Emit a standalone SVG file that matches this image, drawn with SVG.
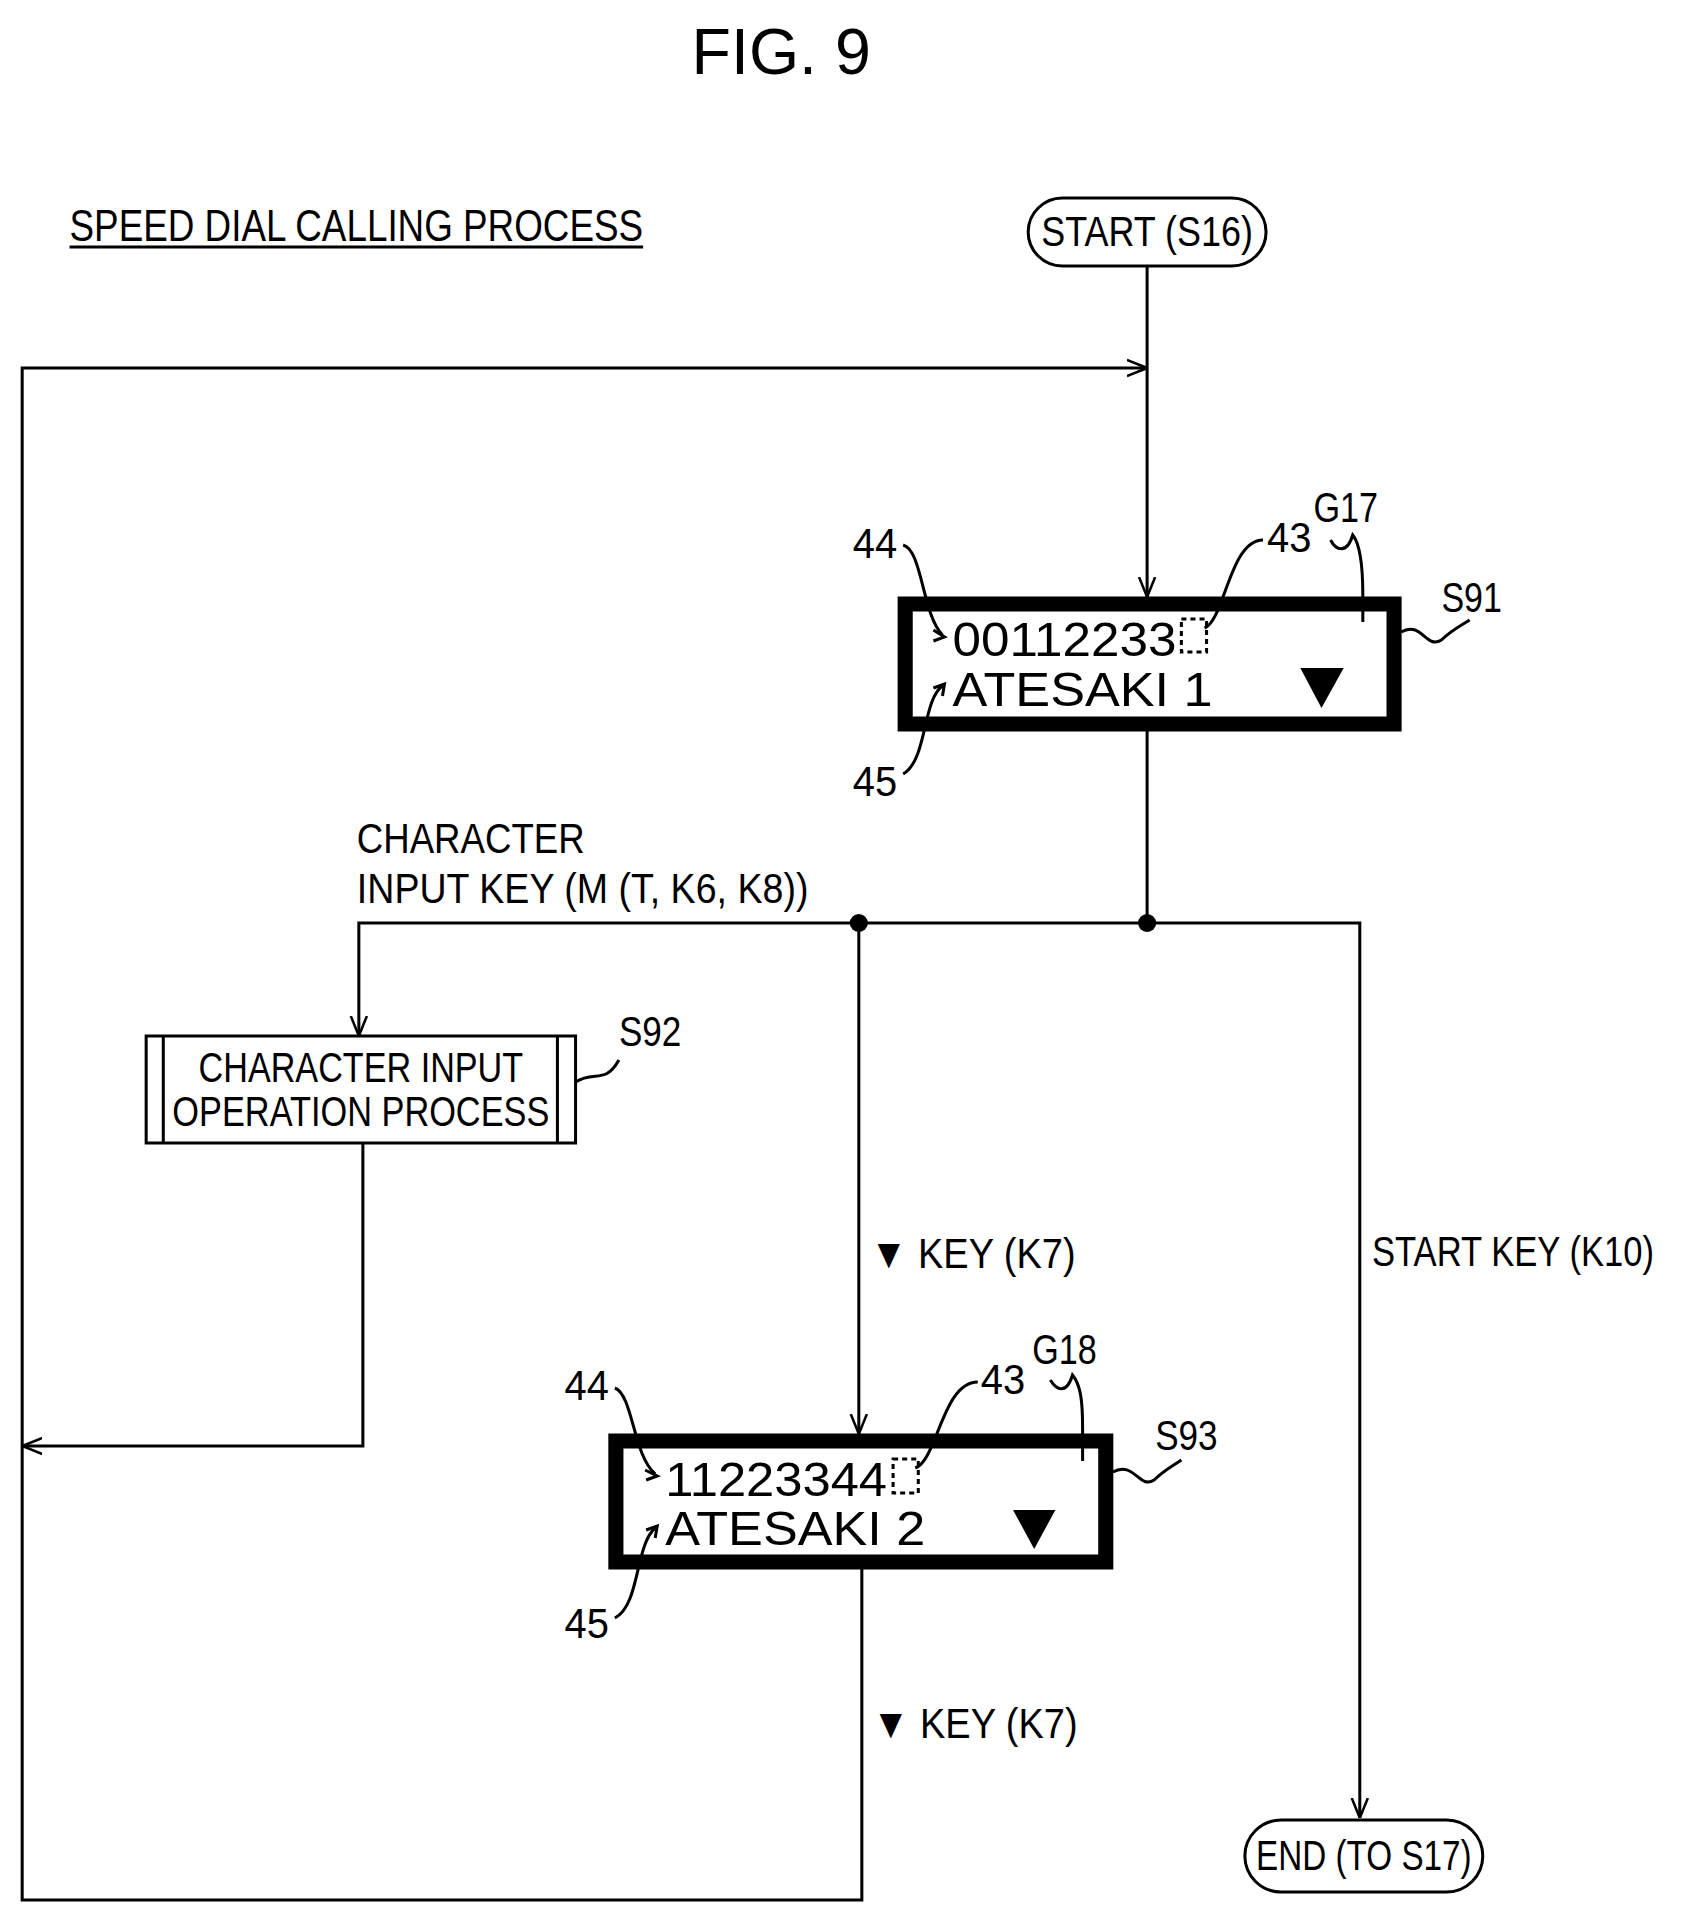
<svg xmlns="http://www.w3.org/2000/svg" width="1683" height="1918" viewBox="0 0 1683 1918">
<style>
text{font-family:"Liberation Sans",Arial,sans-serif;fill:#000}
.t{font-size:44px}
.d{font-size:48px}
.l{font-size:42px}
.ln{fill:none;stroke:#000;stroke-width:3}
.box{fill:#fff;stroke:#000;stroke-width:15}
.dot{fill:none;stroke:#000;stroke-width:3;stroke-dasharray:5 4}
</style>
<defs>
<marker id="a" viewBox="0 0 20 20" refX="20" refY="10" markerWidth="20" markerHeight="20" markerUnits="userSpaceOnUse" orient="auto"><path d="M0,2 L20,10 L0,18" fill="none" stroke="#000" stroke-width="2.5"/></marker>
</defs>
<rect width="1683" height="1918" fill="#fff"/>
<g transform="matrix(1.008 0 0 1 0 0)">
<text x="775" y="74" text-anchor="middle" style="font-size:64px">FIG. 9</text>
<text x="69" y="241" class="t" textLength="569" lengthAdjust="spacingAndGlyphs">SPEED DIAL CALLING PROCESS</text>
<line x1="69" y1="247" x2="638" y2="247" class="ln"/>
<g id="connectors">
<line x1="1138" y1="267" x2="1138" y2="597" class="ln" marker-end="url(#a)"/>
<polyline points="855,1569 855,1900 22,1900 22,368 1138,368" class="ln" marker-end="url(#a)"/>
<line x1="1138" y1="731" x2="1138" y2="923" class="ln"/>
<polyline points="1138,923 1349,923 1349,1818" class="ln" marker-end="url(#a)"/>
<polyline points="1138,923 356,923 356,1036" class="ln" marker-end="url(#a)"/>
<line x1="852" y1="923" x2="852" y2="1434" class="ln" marker-end="url(#a)"/>
<polyline points="360,1143 360,1446 22,1446" class="ln" marker-end="url(#a)"/>
<circle cx="852" cy="923" r="9"/>
<circle cx="1138" cy="923" r="9"/>
<text x="354" y="853" class="l" textLength="226" lengthAdjust="spacingAndGlyphs">CHARACTER</text>
<text x="354" y="903" class="l" textLength="448" lengthAdjust="spacingAndGlyphs">INPUT KEY (M (T, K6, K8))</text>
<text x="863" y="1268" class="l" textLength="204" lengthAdjust="spacingAndGlyphs">▼ KEY (K7)</text>
<text x="865" y="1738" class="l" textLength="204" lengthAdjust="spacingAndGlyphs">▼ KEY (K7)</text>
<text x="1361" y="1266" class="l" textLength="280" lengthAdjust="spacingAndGlyphs">START KEY (K10)</text>
</g>
<g id="start">
<rect x="1020" y="198" width="236" height="68" rx="34" fill="#fff" stroke="#000" stroke-width="3"/>
<text x="1138" y="246" text-anchor="middle" class="l" textLength="210" lengthAdjust="spacingAndGlyphs">START (S16)</text>
</g>
<g id="s91">
<rect x="898" y="604" width="485" height="120" class="box"/>
<text x="945" y="656" class="d" textLength="222" lengthAdjust="spacingAndGlyphs">00112233</text>
<rect x="1172" y="619" width="25" height="33" class="dot"/>
<text x="945" y="706" class="d" textLength="258" lengthAdjust="spacingAndGlyphs">ATESAKI 1</text>
<polygon points="1290,668 1333,668 1311,708"/>
<line x1="1352" y1="595" x2="1352" y2="622" class="ln"/>
<path d="M1352,595 C1352,570 1350,545 1342,535 C1336,555 1325,550 1320,540" class="ln"/>
<text x="1303" y="522" class="l" textLength="64" lengthAdjust="spacingAndGlyphs">G17</text>
<path d="M1253,540 C1220,540 1215,620 1195,628" class="ln"/>
<text x="1257" y="552" class="l" textLength="44" lengthAdjust="spacingAndGlyphs">43</text>
<text x="846" y="558" class="l" textLength="44" lengthAdjust="spacingAndGlyphs">44</text>
<path d="M896,545 C915,550 915,615 935,635" class="ln"/>
<path d="M926,630 L937,637 L926,641" class="ln"/>
<text x="846" y="796" class="l" textLength="44" lengthAdjust="spacingAndGlyphs">45</text>
<path d="M896,774 C920,760 915,700 935,686" class="ln"/>
<path d="M926,688 L937,684 L935,696" class="ln"/>
<path d="M1390,632 C1410,620 1415,650 1430,640 C1440,630 1450,625 1458,620" class="ln"/>
<text x="1430" y="612" class="l" textLength="60" lengthAdjust="spacingAndGlyphs">S91</text>
</g>
<g id="s92">
<rect x="145" y="1036" width="426" height="107" fill="#fff" stroke="#000" stroke-width="3"/>
<line x1="162" y1="1036" x2="162" y2="1143" class="ln"/>
<line x1="553" y1="1036" x2="553" y2="1143" class="ln"/>
<text x="358" y="1082" text-anchor="middle" class="l" textLength="322" lengthAdjust="spacingAndGlyphs">CHARACTER INPUT</text>
<text x="358" y="1126" text-anchor="middle" class="l" textLength="374" lengthAdjust="spacingAndGlyphs">OPERATION PROCESS</text>
<path d="M571,1082 C590,1070 600,1085 614,1060" class="ln"/>
<text x="614" y="1046" class="l" textLength="62" lengthAdjust="spacingAndGlyphs">S92</text>
</g>
<g id="s93">
<rect x="611" y="1441" width="486" height="121" class="box"/>
<text x="660" y="1496" class="d" textLength="220" lengthAdjust="spacingAndGlyphs">11223344</text>
<rect x="886" y="1459" width="25" height="34" class="dot"/>
<text x="660" y="1545" class="d" textLength="258" lengthAdjust="spacingAndGlyphs">ATESAKI 2</text>
<polygon points="1005,1510 1047,1510 1026,1549"/>
<line x1="1074" y1="1428" x2="1074" y2="1461" class="ln"/>
<path d="M1074,1428 C1074,1400 1072,1385 1064,1375 C1058,1395 1048,1390 1042,1380" class="ln"/>
<text x="1024" y="1364" class="l" textLength="64" lengthAdjust="spacingAndGlyphs">G18</text>
<path d="M970,1382 C935,1382 930,1460 908,1468" class="ln"/>
<text x="973" y="1394" class="l" textLength="44" lengthAdjust="spacingAndGlyphs">43</text>
<text x="560" y="1400" class="l" textLength="44" lengthAdjust="spacingAndGlyphs">44</text>
<path d="M610,1388 C628,1395 628,1455 650,1474" class="ln"/>
<path d="M640,1470 L652,1476 L641,1480" class="ln"/>
<text x="560" y="1638" class="l" textLength="44" lengthAdjust="spacingAndGlyphs">45</text>
<path d="M610,1618 C635,1605 630,1545 650,1528" class="ln"/>
<path d="M641,1530 L652,1526 L650,1538" class="ln"/>
<path d="M1104,1472 C1125,1460 1130,1490 1145,1480 C1155,1470 1165,1465 1172,1460" class="ln"/>
<text x="1146" y="1450" class="l" textLength="62" lengthAdjust="spacingAndGlyphs">S93</text>
</g>
<g id="end">
<rect x="1235" y="1820" width="236" height="72" rx="36" fill="#fff" stroke="#000" stroke-width="3"/>
<text x="1353" y="1870" text-anchor="middle" class="l" textLength="214" lengthAdjust="spacingAndGlyphs">END (TO S17)</text>
</g>
</g>
</svg>
